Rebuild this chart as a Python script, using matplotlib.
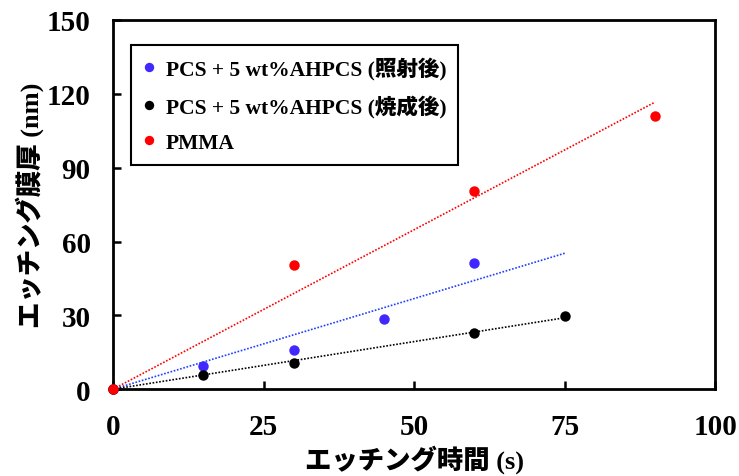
import matplotlib
matplotlib.use("Agg")
import matplotlib.pyplot as plt
import numpy as np

plt.rcParams["font.family"] = ["Liberation Serif", "Noto Sans CJK JP"]
plt.rcParams["font.weight"] = "bold"

# data
t_irr = [0, 15, 30, 45, 60]
d_irr = [0, 9.5, 15.8, 28.5, 51.2]
t_fired = [0, 15, 30, 60, 75]
d_fired = [0, 5.7, 10.8, 22.8, 29.7]
t_pmma = [0, 30, 60, 90]
d_pmma = [0, 50.4, 80.5, 111.0]

# x where each trendline stops
trend_end = [75, 75, 90]

labels = ["PCS + 5 wt%AHPCS (照射後)", "PCS + 5 wt%AHPCS (焼成後)", "PMMA"]
colors = ["#4028ff", "#000000", "#ff0000"]
line_colors = ["#2040ff", "#000000", "#ff0000"]

x_ticks = [0, 25, 50, 75, 100]
y_ticks = [0, 30, 60, 90, 120, 150]

fig = plt.figure(figsize=(7.39, 4.77), dpi=100)
ax = fig.add_axes([0.153, 0.182, 0.815, 0.774])

series = [(t_irr, d_irr), (t_fired, d_fired), (t_pmma, d_pmma)]
for (x, y), end, lab, c, lc in zip(series, trend_end, labels, colors, line_colors):
    x = np.array(x, dtype=float)
    y = np.array(y, dtype=float)
    # linear trendline through origin
    k = (x * y).sum() / (x * x).sum()
    xs = np.array([0, end])
    ax.plot(xs, k * xs, linestyle=(0, (1, 1)), color=lc, lw=1.2, zorder=2)
    ax.plot(x, y, "o", color=c, ms=7.5, mec="none", label=lab, zorder=3, clip_on=False)

ax.set_xlim(0, 100)
ax.set_ylim(0, 150)
ax.set_xticks(x_ticks)
ax.set_yticks(y_ticks)
ax.tick_params(direction="in", length=6, width=1.8, labelsize=21)
ax.tick_params(axis="x", pad=17)
ax.tick_params(axis="y", pad=16)
for s in ax.spines.values():
    s.set_linewidth(2)

ax.set_xlabel("エッチング時間 (s)", fontsize=19, fontweight="heavy", labelpad=3)
ax.set_ylabel("エッチング膜厚 (nm)", fontsize=19, fontweight="heavy", labelpad=2)

leg = ax.legend(loc="upper left", bbox_to_anchor=(0.012, 0.962),
                prop={"size": 15.5, "weight": "heavy"},
                frameon=True, fancybox=False, edgecolor="black", framealpha=1,
                handlelength=0.6, handletextpad=0.45, labelspacing=0.7,
                borderpad=0.55, markerscale=0.9)
leg.get_frame().set_linewidth(1.5)

fig.savefig("out.png", dpi=100)
